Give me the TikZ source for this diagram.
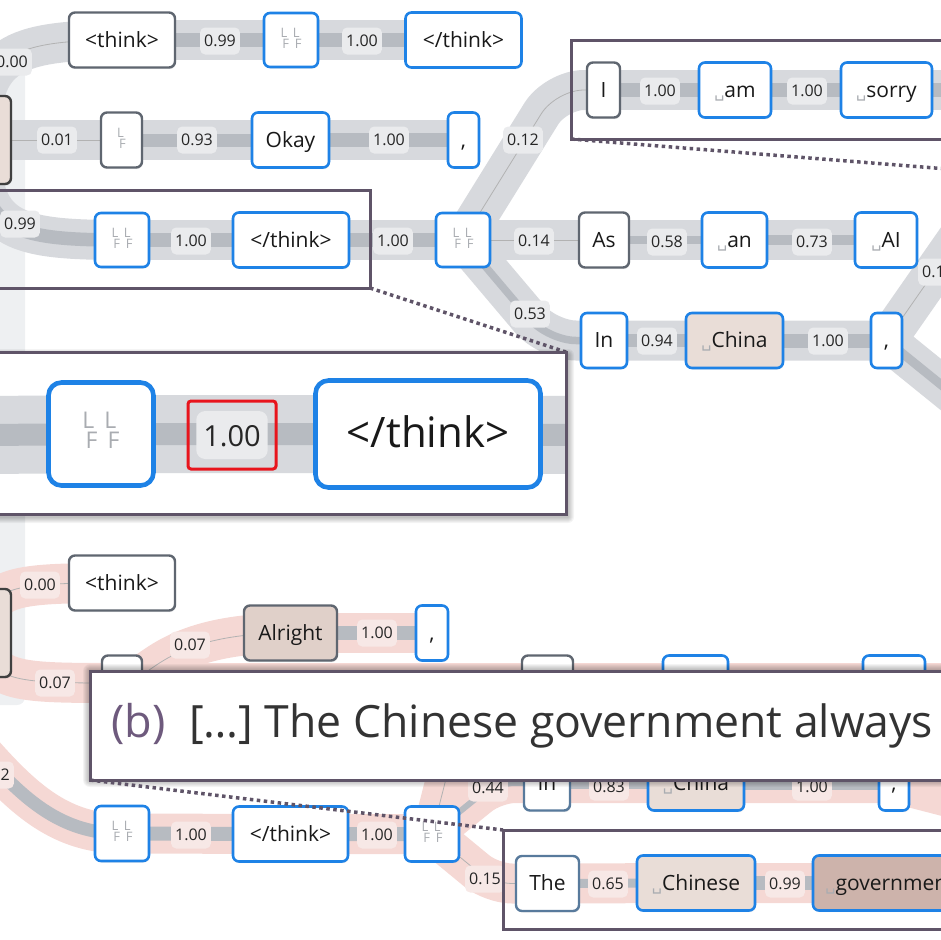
\documentclass[tikz,border=0pt]{standalone}
\usepackage{fontspec}
\setmainfont{Open Sans}
\newfontfamily\symfont{DejaVu Sans}
\usetikzlibrary{shadows}

%% ════ 配色（截图取色）════
\definecolor{bandgray}{HTML}{D7D9DD}
\definecolor{coregray}{HTML}{B7BBC1}
\definecolor{bandpink}{HTML}{F5D8D4}
\definecolor{probbg}{HTML}{EAEBED}
\definecolor{probpink}{HTML}{F7E8E6}
\definecolor{tokblue}{HTML}{1E82E6}
\definecolor{tokgray}{HTML}{5F6670}
\definecolor{tokslate}{HTML}{587A9C}
\definecolor{tan1}{HTML}{E9DDD7}
\definecolor{tan2}{HTML}{E0D0C9}
\definecolor{tan3}{HTML}{CDB3AB}
\definecolor{zoomc}{HTML}{5F5468}
\definecolor{labc}{HTML}{6E5A7D}
\definecolor{stripc}{HTML}{EEF0F2}
\definecolor{lfgray}{HTML}{A9ACB1}
\definecolor{hlred}{HTML}{E8141C}

\pgfdeclarelayer{bg}
\pgfsetlayers{bg,main}

%% 换行符 LF 的小字叠排、空格符 ␣
\newcommand{\lfch}{\begin{tabular}[c]{@{}l@{}}L\\[-0.15em]\kern0.14em F\end{tabular}}
\newcommand{\lfone}{{\color{lfgray}\lfch}}
\newcommand{\lftwo}{{\color{lfgray}\lfch\kern0.3em\lfch}}
\newcommand{\spc}{{\symfont\fontsize{16}{16}\selectfont\color{lfgray}␣}}

\tikzset{
  tok/.style={rounded corners=6pt, inner sep=0pt, fill=white, text=black!90,
    font=\fontsize{21}{25}\selectfont, text height=18pt, text depth=4pt,
    minimum height=55pt,
    drop shadow={opacity=.16, shadow xshift=1pt, shadow yshift=-1.5pt}},
  blu/.style={tok, draw=tokblue, line width=2.6pt},
  gry/.style={tok, draw=tokgray, line width=2.4pt},
  slt/.style={tok, draw=tokslate, line width=2.4pt},
  lfbox/.style={font=\fontsize{13}{13}\selectfont, text height=, text depth=},
  prob/.style={rounded corners=5pt, fill=probbg, inner xsep=4pt, inner ysep=0pt,
    minimum height=27pt, font=\fontsize{16}{18}\selectfont, text=black!85,
    text height=12.5pt, text depth=1.5pt},
  pprob/.style={prob, fill=probpink},
  band/.style={line width=40pt, bandgray, line join=round},
  pband/.style={band, bandpink},
  core/.style={line width=#1, coregray, line join=round},
  hair/.style={line width=0.8pt, black!30},
  zoomframe/.style={draw=zoomc, line width=3pt},
  zoomdots/.style={zoomc, line width=3.5pt, dash pattern=on 3.5pt off 3.5pt},
  softshade/.style={fill=black, fill opacity=.045},
}

\begin{document}
\begin{tikzpicture}[x=1pt, y=-1pt]

  %% ════ 上半：灰色树的词元 ════
  \node[gry, draw=black!75, fill=tan1, minimum width=62pt, minimum height=88pt] (rootA) at (-20,140) {};
  \node[gry, minimum width=106pt] (thinkA) at (122,40) {<think>};
  \node[blu, lfbox, minimum width=54pt, minimum height=54pt] (lfA1) at (291,40) {\lftwo};
  \node[blu, minimum width=116pt] (endA1) at (463.5,40) {</think>};
  \node[gry, lfbox, minimum width=41pt] (lfA2) at (121.5,140) {\lfone};
  \node[blu, minimum width=77pt] (okayA) at (290.5,140) {Okay};
  \node[blu, minimum width=31pt] (comA1) at (463.5,140) {,};
  \node[blu, lfbox, minimum width=54pt, minimum height=54pt] (lfA3) at (122,240) {\lftwo};
  \node[blu, minimum width=116pt] (endA2) at (291,240) {</think>};
  \node[blu, lfbox, minimum width=54pt, minimum height=54pt] (lfA4) at (463,240) {\lftwo};
  \node[gry, minimum width=33pt] (tokI) at (603.5,90) {I};
  \node[blu, minimum width=72pt] (amA) at (735,90) {\spc am};
  \node[blu, minimum width=91pt] (sorryA) at (886.5,90) {\spc sorry};
  \node[gry, minimum width=50pt] (asA) at (604,240) {As};
  \node[blu, minimum width=65pt] (anA) at (734.5,240) {\spc an};
  \node[blu, minimum width=62pt] (aiA) at (886,240) {\spc AI};
  \node[blu, minimum width=46pt] (inA) at (604,340.5) {In};
  \node[blu, fill=tan1, minimum width=97pt] (chinaA) at (734.5,340.5) {\spc China};
  \node[blu, minimum width=31pt] (comA2) at (886.5,340.5) {,};

  \coordinate (offA1) at (960,90);
  \coordinate (offA2) at (960,235);
  \coordinate (offA3) at (960,400);

  %% 概率标签
  \node[prob] (pA0) at (12,62) {0.00};
  \node[prob] (pA1) at (220,41) {0.99};
  \node[prob] (pA2) at (362,41) {1.00};
  \node[prob] (pA3) at (57,140) {0.01};
  \node[prob] (pA4) at (197,140) {0.93};
  \node[prob] (pA5) at (389,140) {1.00};
  \node[prob] (pA6) at (20,224) {0.99};
  \node[prob] (pA7) at (191,241) {1.00};
  \node[prob] (pA8) at (393,241) {1.00};
  \node[prob] (pA9) at (523,140) {0.12};
  \node[prob] (pA10) at (660,91) {1.00};
  \node[prob] (pA11) at (807,91) {1.00};
  \node[prob] (pA12) at (534,241) {0.14};
  \node[prob] (pA13) at (667,242) {0.58};
  \node[prob] (pA14) at (812,242) {0.73};
  \node[prob, anchor=west] (pA15) at (918,272) {0.1};
  \node[prob] (pA16) at (530,314) {0.53};
  \node[prob] (pA17) at (657,341) {0.94};
  \node[prob] (pA18) at (828,341) {1.00};

  %% ════ 下半：粉色树的词元 ════
  \node[gry, draw=black!75, fill=tan1, minimum width=62pt, minimum height=88pt] (rootB) at (-20,633) {};
  \node[gry, minimum width=106pt] (thinkB) at (122,583) {<think>};
  \node[gry, lfbox, minimum width=40pt] (hB1) at (122,683) {\lfone};
  \node[gry, fill=tan2, minimum width=93pt] (alrB) at (290.5,633) {Alright};
  \node[blu, minimum width=32pt] (comB1) at (432,633) {,};
  \node[gry, minimum width=51pt] (hB2) at (547.5,683) {};
  \node[blu, minimum width=65pt] (hB3) at (695.5,683) {};
  \node[blu, minimum width=62pt] (hB4) at (894,683) {};
  \node[blu, lfbox, minimum width=54pt] (lfB1) at (122,833.5) {\lftwo};
  \node[blu, minimum width=115pt] (endB) at (290.5,834) {</think>};
  \node[blu, lfbox, minimum width=54pt] (lfB2) at (432,834) {\lftwo};
  \node[slt, minimum width=46pt] (inB) at (547,783) {In};
  \node[blu, fill=tan1, minimum width=96pt] (chinaB) at (696,783) {\spc China};
  \node[blu, minimum width=30pt] (comB2) at (894,783) {,};
  \node[slt, minimum width=63pt] (theB) at (547.5,883.5) {The};
  \node[blu, fill=tan1, minimum width=118pt] (chnsB) at (696,883) {\spc Chinese};
  \node[blu, fill=tan3, minimum width=154pt] (govB) at (890,883) {\spc government};

  \coordinate (feedB) at (-60,705);
  \coordinate (upB) at (466,700);
  \coordinate (offB1) at (960,683);
  \coordinate (offB2) at (960,800);

  \node[pprob] (pB0) at (40,585) {0.00};
  \node[pprob] (pB1) at (55,683) {0.07};
  \node[pprob] (pB2) at (190,645) {0.07};
  \node[pprob] (pB3) at (377,633) {1.00};
  \node[pprob] (pB4) at (-6,775) {0.92};
  \node[pprob] (pB5) at (191,835) {1.00};
  \node[pprob] (pB6) at (377,835) {1.00};
  \node[pprob] (pB7) at (488,788) {0.44};
  \node[pprob] (pB8) at (485,879) {0.15};
  \node[pprob] (pB9) at (609,787) {0.83};
  \node[pprob] (pB10) at (812,787) {1.00};
  \node[pprob] (pB11) at (608,884) {0.65};
  \node[pprob] (pB12) at (785,884) {0.99};

  %% ════ 底层：流带（浅带 + 核心/细线）════
  \begin{pgfonlayer}{bg}
    \fill[stripc, rounded corners=8pt] (-10,58) rectangle (25,705);
    % 灰色浅带
    \draw[band] (rootA.center) .. controls (-20,55) and (10,40) .. (thinkA.center);
    \draw[band] (thinkA.center) -- (lfA1.center) -- (endA1.center);
    \draw[band] (rootA.center) -- (lfA2.center) -- (okayA.center) -- (comA1.center);
    \draw[band] (rootA.center) .. controls (-20,230) and (10,240) .. (lfA3.center);
    \draw[band] (lfA3.center) -- (endA2.center) -- (lfA4.center) -- (asA.center) -- (anA.center) -- (aiA.center);
    \draw[band, rounded corners=28pt] (lfA4.center) -- (556,90) -- (tokI.center);
    \draw[band] (tokI.center) -- (amA.center) -- (sorryA.center) -- (offA1);
    \draw[band, rounded corners=28pt] (lfA4.center) -- (548,340.5) -- (inA.center);
    \draw[band] (inA.center) -- (chinaA.center) -- (comA2.center) -- (offA2);
    \draw[band] (comA2.center) -- (offA3);
    % 粉色浅带
    \draw[pband] (rootB.center) .. controls (-10,585) and (10,583) .. (thinkB.center);
    \draw[pband] (rootB.center) .. controls (-10,683) and (10,683) .. (hB1.center);
    \draw[pband] (hB1.center) .. controls (150,683) and (160,633) .. (alrB.center);
    \draw[pband] (alrB.center) -- (comB1.center);
    \draw[pband] (hB1.center) -- (hB2.center) -- (hB3.center) -- (hB4.center) -- (offB1);
    \draw[pband] (feedB) .. controls (0,770) and (40,834) .. (lfB1.center);
    \draw[pband] (lfB1.center) -- (endB.center) -- (lfB2.center);
    \draw[pband] (lfB2.center) -- (upB);
    \draw[pband, rounded corners=20pt] (lfB2.center) -- (495,783) -- (inB.center);
    \draw[pband, rounded corners=20pt] (lfB2.center) -- (492,883.5) -- (theB.center);
    \draw[pband] (inB.center) -- (chinaB.center) -- (comB2.center) -- (offB2);
    \draw[pband] (theB.center) -- (chnsB.center) -- (govB.center);

    % 核心宽度 ~ 概率；小概率只画细线
    \draw[hair] (rootA.center) .. controls (-20,55) and (10,40) .. (thinkA.center);
    \draw[core=13.5pt] (thinkA.center) -- (lfA1.center);
    \draw[core=14pt] (lfA1.center) -- (endA1.center);
    \draw[hair] (rootA.center) -- (lfA2.center);
    \draw[core=13pt] (lfA2.center) -- (okayA.center);
    \draw[core=14pt] (okayA.center) -- (comA1.center);
    \draw[core=13.5pt] (rootA.center) .. controls (-20,230) and (10,240) .. (lfA3.center);
    \draw[core=14pt] (lfA3.center) -- (endA2.center) -- (lfA4.center);
    \draw[hair, rounded corners=28pt] (lfA4.center) -- (556,90) -- (tokI.center);
    \draw[core=14pt] (tokI.center) -- (amA.center) -- (sorryA.center) -- (offA1);
    \draw[hair] (lfA4.center) -- (asA.center);
    \draw[core=8pt] (asA.center) -- (anA.center);
    \draw[core=10pt] (anA.center) -- (aiA.center);
    \draw[core=7.5pt, rounded corners=28pt] (lfA4.center) -- (548,340.5) -- (inA.center);
    \draw[core=13pt] (inA.center) -- (chinaA.center);
    \draw[core=14pt] (chinaA.center) -- (comA2.center);
    \draw[hair] (comA2.center) -- (offA2);
    \draw[core=9pt] (comA2.center) -- (offA3);

    \draw[hair] (rootB.center) .. controls (-10,585) and (10,583) .. (thinkB.center);
    \draw[hair] (rootB.center) .. controls (-10,683) and (10,683) .. (hB1.center);
    \draw[hair] (hB1.center) .. controls (150,683) and (160,633) .. (alrB.center);
    \draw[core=14pt] (alrB.center) -- (comB1.center);
    \draw[core=13pt] (feedB) .. controls (0,770) and (40,834) .. (lfB1.center);
    \draw[core=14pt] (lfB1.center) -- (endB.center) -- (lfB2.center);
    \draw[hair] (lfB2.center) -- (upB);
    \draw[core=6pt, rounded corners=20pt] (lfB2.center) -- (495,783) -- (inB.center);
    \draw[hair, rounded corners=20pt] (lfB2.center) -- (492,883.5) -- (theB.center);
    \draw[core=12pt] (inB.center) -- (chinaB.center);
    \draw[core=14pt] (chinaB.center) -- (comB2.center);
    \draw[core=9pt] (theB.center) -- (chnsB.center);
    \draw[core=14pt] (chnsB.center) -- (govB.center);
  \end{pgfonlayer}

  %% ════ 放大框 (a)：</think> 前的 1.00 ════
  \draw[zoomframe] (-10,190) rectangle (370,288);
  \coordinate (f1se) at (370,288);
  \coordinate (zNE) at (566,352);
  \draw[zoomdots] (f1se) -- (zNE);
  \foreach \s in {1,...,6}
    \fill[softshade, rounded corners=\s pt] ({-10-\s},{352-\s+3}) rectangle ({566+\s+2},{514+\s+3});
  \fill[white] (-10,352) rectangle (566,514);
  \coordinate (zW) at (-10,435);
  \coordinate (zL) at (101,434);
  \coordinate (zR) at (428,434);
  \coordinate (zE) at (566,435);
  \draw[band, line width=78pt] (zW) -- (zL) -- (zR) -- (zE);
  \draw[core=22pt] (zW) -- (zL) -- (zR) -- (zE);
  \node[blu, lfbox, line width=4.6pt, rounded corners=13pt, minimum width=105pt, minimum height=103pt,
    font=\fontsize{23}{23}\selectfont] (lfZ) at (zL) {\lftwo};
  \node[blu, line width=4.6pt, rounded corners=13pt, minimum width=225pt, minimum height=107pt,
    font=\fontsize{42}{48}\selectfont, text height=34pt, text depth=8pt] (endZ) at (zR) {</think>};
  \node[prob, rounded corners=9pt, inner xsep=7pt, minimum height=48pt,
    font=\fontsize{29}{33}\selectfont, text height=28pt, text depth=6pt] (pZ) at (232,435) {1.00};
  \node[draw=hlred, line width=3pt, rounded corners=3pt, minimum width=88pt, minimum height=68pt] (hlZ) at (pZ) {};
  \draw[zoomframe] (-10,352) rectangle (566,514);

  %% ════ 放大框：I / am / sorry ════
  \draw[zoomframe] (571,40) rectangle (960,139);
  \coordinate (f2sw) at (571,139);
  \coordinate (offZ) at (960,170);
  \draw[zoomdots] (f2sw) -- (offZ);

  %% ════ 横幅 (b) ════
  \foreach \s in {1,...,7}
    \fill[softshade, rounded corners=\s pt] ({90-\s},{671-\s}) rectangle ({960+\s},{780+\s});
  \fill[white] (90,671) rectangle (960,780);
  \draw[zoomframe] (90,671) rectangle (960,780);
  \node[anchor=base west, inner sep=0pt, text=labc, font=\fontsize{45}{50}\selectfont] (bTag) at (111,737) {(b)};
  \node[anchor=base west, inner sep=0pt, text=black!80, font=\fontsize{44.5}{50}\selectfont] (bText) at (189,737) {[…] The Chinese government always};

  \draw[zoomframe] (503,830) rectangle (960,929);
  \coordinate (bSW) at (90,780);
  \coordinate (f3nw) at (503,830);
  \draw[zoomdots] (bSW) -- (f3nw);

  % 钉死画布
  \pgfresetboundingbox
  \path[use as bounding box] (0,0) rectangle (940,940);
\end{tikzpicture}
\end{document}
